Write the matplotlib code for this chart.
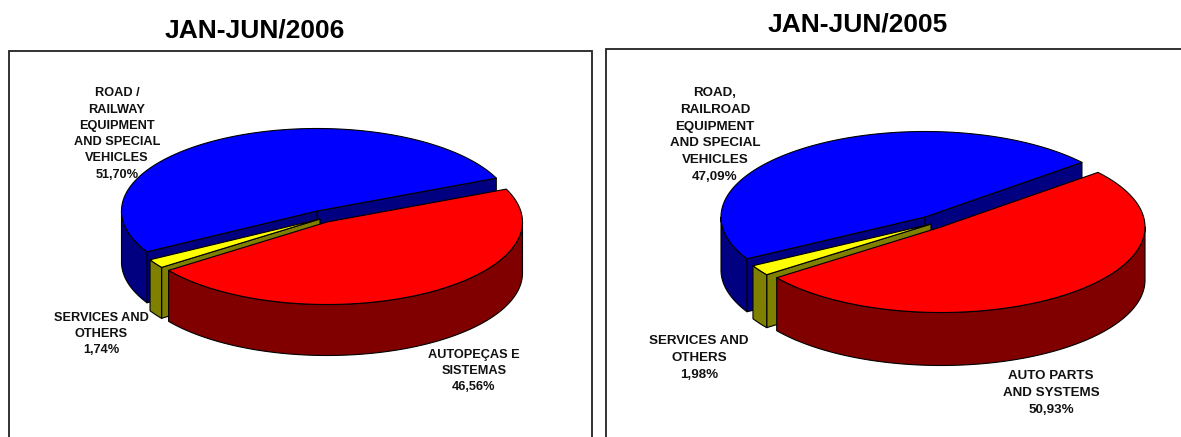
import numpy as np
import matplotlib
matplotlib.use("Agg")
import matplotlib.pyplot as plt
from matplotlib.patches import Polygon, Rectangle

plt.rcParams['font.family'] = ['Liberation Sans', 'DejaVu Sans']

# shares in percent, going counter-clockwise from the first cut
shares_2006 = [51.70, 1.74, 46.56]
shares_2005 = [47.09, 1.98, 50.93]

names_2006 = ["ROAD /\nRAILWAY\nEQUIPMENT\nAND SPECIAL\nVEHICLES",
              "SERVICES AND\nOTHERS",
              "AUTOPEÇAS E\nSISTEMAS"]
names_2005 = ["ROAD,\nRAILROAD\nEQUIPMENT\nAND SPECIAL\nVEHICLES",
              "SERVICES AND\nOTHERS",
              "AUTO PARTS\nAND SYSTEMS"]

title_2006 = "JAN-JUN/2006"
title_2005 = "JAN-JUN/2005"

top_colors = ["#0000ff", "#ffff00", "#ff0000"]
side_colors = ["#000080", "#808000", "#800000"]


def disc_point(c, rx, ry, ang):
    a = np.radians(ang)
    return np.array([c[0] + rx*np.cos(a), c[1] - ry*np.sin(a)])


def arc(c, rx, ry, a0, a1):
    t = np.radians(np.linspace(a0, a1, 200))
    return np.column_stack([c[0] + rx*np.cos(t), c[1] - ry*np.sin(t)])


def draw_slice(ax, c, rx, ry, depth, a0, a1, top, side):
    down = np.array([0, depth])
    lw = 0.8

    # flat cut walls, only the ones turned towards the viewer
    for ang, normal in ((a0, a0 - 90), (a1, a1 + 90)):
        if np.sin(np.radians(normal)) < 0:
            p = disc_point(c, rx, ry, ang)
            wall = [c, p, p + down, np.array(c) + down]
            ax.add_patch(Polygon(wall, fc=side, ec="black", lw=lw, joinstyle="round"))

    # rim of the disc on the front half
    lo, hi = max(a0, 180), min(a1, 360)
    if hi > lo:
        rim = arc(c, rx, ry, lo, hi)
        pts = np.vstack([rim, rim[::-1] + down])
        ax.add_patch(Polygon(pts, fc=side, ec="black", lw=lw, joinstyle="round"))

    # top face
    pts = np.vstack([[c], arc(c, rx, ry, a0, a1)])
    ax.add_patch(Polygon(pts, fc=top, ec="black", lw=lw, joinstyle="round"))


def draw_pie(ax, shares, start, centers, rx, ry, depth):
    a0 = start
    for i, s in enumerate(shares):
        a1 = a0 + s*3.6
        draw_slice(ax, centers[i], rx, ry, depth, a0, a1, top_colors[i], side_colors[i])
        a0 = a1


def draw_labels(ax, names, shares, spots, size, spacing):
    for name, s, (x, y) in zip(names, shares, spots):
        txt = name + "\n" + f"{s:.2f}".replace(".", ",") + "%"
        ax.text(x, y, txt, ha="center", va="center", fontsize=size,
                fontweight="bold", color="#111111", linespacing=spacing, zorder=5)


fig = plt.figure(figsize=(11.81, 4.37), dpi=100)
ax = fig.add_axes([0, 0, 1, 1])
ax.set_xlim(0, 1181)
ax.set_ylim(437, 0)
ax.axis("off")

# panel frames run off the bottom and right edge
ax.add_patch(Rectangle((9, 51), 583, 400, fc="white", ec="#222222", lw=1.3))
ax.add_patch(Rectangle((606, 49), 600, 400, fc="white", ec="#222222", lw=1.3))

draw_pie(ax, shares_2006, 23.5, [(317, 211), (320, 219), (327, 222)], 195.5, 82.5, 51)
draw_pie(ax, shares_2005, 39.7, [(925, 217), (931, 224), (941, 227)], 204, 85.5, 53)

draw_labels(ax, names_2006, shares_2006, [(117, 134), (101, 334), (474, 371)], 9.2, 1.47)
draw_labels(ax, names_2005, shares_2005, [(715, 135), (699, 358), (1051, 393)], 9.6, 1.54)

ax.text(255, 30, title_2006, ha="center", va="center", fontsize=19, fontweight="bold")
ax.text(858, 25, title_2005, ha="center", va="center", fontsize=19, fontweight="bold")

fig.savefig("out.png", dpi=100)
